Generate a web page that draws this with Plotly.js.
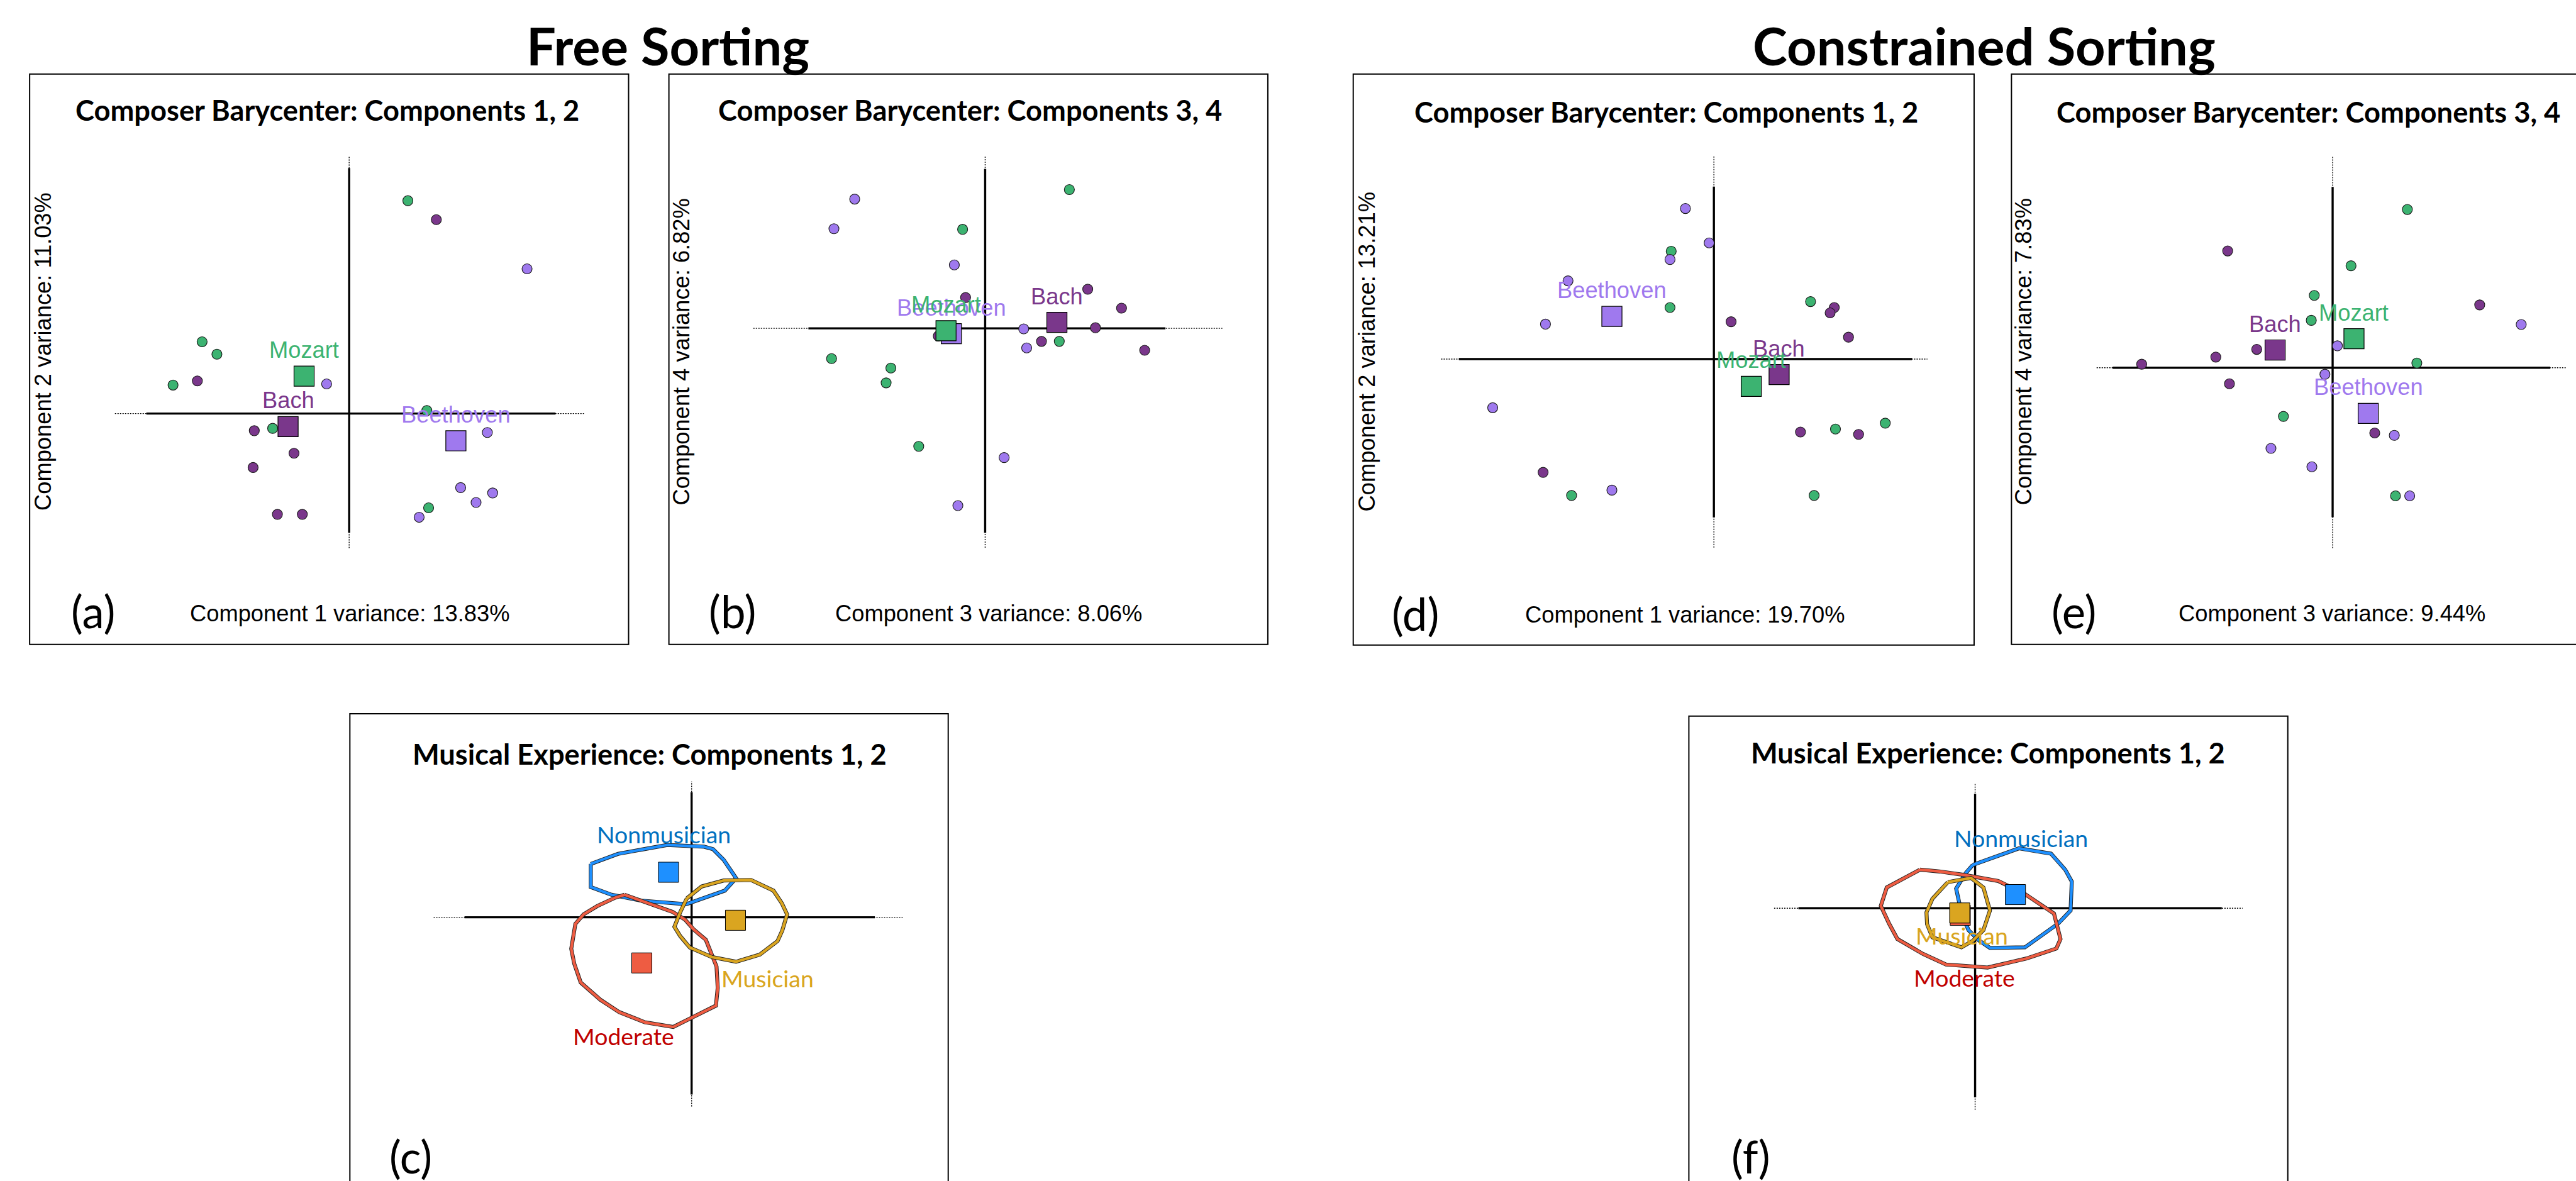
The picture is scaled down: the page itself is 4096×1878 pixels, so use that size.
<!DOCTYPE html>
<html><head><meta charset="utf-8">
<script src="https://cdn.plot.ly/plotly-3.0.1.min.js"></script>
<style>html,body{margin:0;padding:0;background:#fff;overflow:hidden}</style>
</head><body><div id="chart" style="width:4096px;height:1878px"></div>
<script>
// ================= DATA (component scores) =================
const composers = ['Mozart', 'Bach', 'Beethoven'];
const experience = ['Nonmusician', 'Musician', 'Moderate'];

// (a) Free sorting, components 1-2
const freeC12MozartX = [0.99, -2.48, -2.23, -2.97, -1.29, 1.31, 1.34];
const freeC12MozartY = [3.59, 1.21, 1.00, 0.48, -0.25, 0.05, -1.59];
const freeC12BachX = [1.47, -2.56, -1.60, -0.93, -1.62, -1.21, -0.79];
const freeC12BachY = [3.27, 0.55, -0.29, -0.67, -0.91, -1.70, -1.70];
const freeC12BeethovenX = [3.00, -0.38, 2.33, 1.88, 2.42, 2.14, 1.18];
const freeC12BeethovenY = [2.44, 0.50, -0.32, -1.25, -1.34, -1.50, -1.75];
const freeC12BaryX = [-0.76, -1.03, 1.80];   // Mozart, Bach, Beethoven
const freeC12BaryY = [0.63, -0.22, -0.46];

// (b) Free sorting, components 3-4
const freeC34MozartX = [1.42, -0.38, -2.59, -1.59, -1.67, -1.12, 1.25];
const freeC34MozartY = [2.34, 1.67, -0.51, -0.67, -0.92, -1.99, -0.22];
const freeC34BachX = [1.73, -0.33, 2.30, 1.86, 0.95, 2.69, -0.79];
const freeC34BachY = [0.66, 0.52, 0.34, 0.01, -0.22, -0.37, -0.13];
const freeC34BeethovenX = [-2.20, -2.55, -0.52, 0.65, 0.70, 0.32, -0.46];
const freeC34BeethovenY = [2.18, 1.68, 1.07, -0.01, -0.33, -2.18, -2.99];
const freeC34BaryX = [-0.66, 1.21, -0.57];
const freeC34BaryY = [-0.04, 0.10, -0.09];

// (d) Constrained sorting, components 1-2
const conC12MozartX = [-0.72, -0.74, 1.63, 2.05, 2.89, -2.40, 1.69];
const conC12MozartY = [1.82, 0.87, 0.97, -1.18, -1.08, -2.30, -2.30];
const conC12BachX = [0.29, 2.03, 1.96, 2.27, 1.46, 2.44, -2.88];
const conC12BachY = [0.63, 0.87, 0.78, 0.37, -1.23, -1.27, -1.91];
const conC12BeethovenX = [-0.48, -0.08, -0.74, -2.46, -2.84, -3.73, -1.72];
const conC12BeethovenY = [2.54, 1.96, 1.68, 1.32, 0.59, -0.82, -2.21];
const conC12BaryX = [0.63, 1.10, -1.72];
const conC12BaryY = [-0.46, -0.26, 0.72];

// (e) Constrained sorting, components 3-4
const conC34MozartX = [1.26, 0.31, -0.31, -0.36, 1.42, -0.83, 1.06];
const conC34MozartY = [2.67, 1.72, 1.22, 0.80, 0.08, -0.82, -2.16];
const conC34BachX = [-1.77, 2.48, -1.28, -1.97, -3.22, -1.74, 0.71];
const conC34BachY = [1.97, 1.06, 0.31, 0.18, 0.06, -0.27, -1.10];
const conC34BeethovenX = [3.18, 0.08, -0.13, 1.04, -1.04, -0.35, 1.30];
const conC34BeethovenY = [0.73, 0.37, -0.11, -1.14, -1.36, -1.67, -2.16];
const conC34BaryX = [0.36, -0.97, 0.60];
const conC34BaryY = [0.49, 0.30, -0.77];

// (c) Free sorting, musical experience: hull outlines and barycenters
const freeExpNonmusicianX = [-1.70, -1.24, -0.41, 0.21, 0.36, 0.54, 0.75, 0.56, -0.09, -0.84, -1.35, -1.70];
const freeExpNonmusicianY = [0.90, 1.07, 1.22, 1.19, 1.15, 0.97, 0.66, 0.45, 0.22, 0.28, 0.38, 0.51];
const freeExpMusicianX = [-0.08, 0.17, 0.54, 1.00, 1.38, 1.52, 1.61, 1.53, 1.45, 1.15, 0.75, 0.34, -0.03, -0.19, -0.29, -0.19];
const freeExpMusicianY = [0.32, 0.52, 0.62, 0.63, 0.45, 0.24, 0.05, -0.22, -0.40, -0.63, -0.75, -0.67, -0.51, -0.32, -0.16, 0.09];
const freeExpModerateX = [-1.13, -0.56, -0.32, -0.11, 0.04, 0.24, 0.36, 0.42, 0.44, 0.41, 0.03, -0.31, -0.79, -1.22, -1.54, -1.87, -1.98, -2.03, -1.96, -1.82, -1.59, -1.29];
const freeExpModerateY = [0.38, 0.17, 0.09, -0.04, -0.21, -0.38, -0.68, -0.83, -1.19, -1.49, -1.68, -1.85, -1.77, -1.60, -1.39, -1.10, -0.78, -0.53, -0.11, 0.05, 0.19, 0.33];
const freeExpBaryX = [-0.39, 0.74, -0.84];   // Nonmusician, Musician, Moderate
const freeExpBaryY = [0.76, -0.05, -0.77];

// (f) Constrained sorting, musical experience
const conExpNonmusicianX = [-0.04, 0.74, 1.28, 1.52, 1.63, 1.61, 1.40, 0.84, 0.25, 0.06, -0.11, -0.22, -0.32, -0.16];
const conExpNonmusicianY = [0.73, 1.01, 0.92, 0.65, 0.45, -0.04, -0.26, -0.66, -0.67, -0.54, -0.37, -0.12, 0.33, 0.59];
const conExpMusicianX = [-0.46, -0.07, 0.14, 0.25, 0.14, -0.04, -0.23, -0.44, -0.72, -0.81, -0.82, -0.72];
const conExpMusicianY = [0.44, 0.51, 0.35, -0.04, -0.37, -0.55, -0.66, -0.59, -0.49, -0.27, -0.07, 0.16];
const conExpModerateX = [-0.93, -0.60, -0.18, 0.39, 0.84, 1.33, 1.44, 1.37, 0.86, 0.21, -0.49, -0.88, -1.31, -1.45, -1.59, -1.49];
const conExpModerateY = [0.65, 0.62, 0.56, 0.46, 0.24, -0.09, -0.52, -0.68, -0.85, -1.00, -0.95, -0.77, -0.52, -0.26, 0.04, 0.35];
const conExpBaryX = [0.68, -0.26, -0.25];
const conExpBaryY = [0.23, -0.08, -0.12];

// axis extents drawn (solid part and dotted part), in score units
const axisSolidX = [[-3.42, 3.48], [-2.98, 3.04], [-4.30, 3.34], [-3.71, 3.67], [-3.83, 3.09], [-2.98, 4.16]];
const axisDotX   = [[-3.95, 3.96], [-3.91, 4.00], [-4.60, 3.60], [-3.98, 3.93], [-4.35, 3.56], [-3.39, 4.51]];
const axisSolidY = [[-2.01, 4.14], [-3.45, 2.69], [-2.67, 2.91], [-2.52, 3.05], [-2.99, 2.11], [-3.19, 1.93]];
const axisDotY   = [[-2.27, 4.34], [-3.70, 2.91], [-3.18, 3.42], [-3.04, 3.57], [-3.19, 2.29], [-3.40, 2.11]];

const varianceX = ['Component 1 variance: 13.83%', 'Component 3 variance: 8.06%', 'Component 1 variance: 19.70%', 'Component 3 variance: 9.44%'];
const varianceY = ['Component 2 variance: 11.03%', 'Component 4 variance: 6.82%', 'Component 2 variance: 13.21%', 'Component 4 variance: 7.83%'];
const panelTitles = ['Composer Barycenter: Components 1, 2', 'Composer Barycenter: Components 3, 4',
  'Composer Barycenter: Components 1, 2', 'Composer Barycenter: Components 3, 4',
  'Musical Experience: Components 1, 2', 'Musical Experience: Components 1, 2'];
const panelLetters = ['(a)', '(b)', '(d)', '(e)', '(c)', '(f)'];
const headings = ['Free Sorting', 'Constrained Sorting'];

// ================= LAYOUT / STYLE =================
const RW = 4344, RH = 1992, S = 4096 / 4344, U = 100;
const pX = x => x / RW, pY = y => 1 - y / RH;
const LATO = "Lato, 'Open Sans', sans-serif";
const ARIAL = "'Liberation Sans', Arial, Helvetica, sans-serif";
const compColor = {Mozart: '#3CB371', Bach: '#7A378B', Beethoven: '#9F79EE'};
const expLine = {Nonmusician: '#1E90FF', Musician: '#DAA520', Moderate: '#EE5C42'};
const expText = {Nonmusician: '#0070C0', Musician: '#D9A520', Moderate: '#C00000'};

// panel boxes in reference px [left, top, right, bottom] and origin of the crosshair
const panels = [
  {box: [50, 125, 1060, 1087], org: [588.8, 697.5], title: [551.6, 185], letter: [157, 1030], xt: [590, 1035], yt: [72, 593]},
  {box: [1128, 125, 2138, 1087], org: [1661.3, 553.8], title: [1635.6, 185], letter: [1235, 1030], xt: [1667.5, 1035], yt: [1149, 593]},
  {box: [2282, 125, 3329, 1088], org: [2890.2, 605.7], title: [2810, 188.6], letter: [2387, 1035], xt: [2841, 1037], yt: [2305, 593]},
  {box: [3392, 125, 4402, 1087], org: [3933.6, 620.3], title: [3893, 188.6], letter: [3497, 1030], xt: [3932, 1035], yt: [3412, 593]},
  {box: [590, 1204, 1599, 2100], org: [1166.3, 1547.2], title: [1095.7, 1271], letter: [693, 1950]},
  {box: [2848, 1208, 3858, 2100], org: [3330.7, 1531.9], title: [3352.4, 1269.4], letter: [2953, 1950]}
];
const headingPos = [[1126, 76], [3346, 76]];
const expLabelPos = [
  {Nonmusician: [1119, 1407], Musician: [1294, 1650], Moderate: [1052, 1748]},
  {Nonmusician: [3408, 1413], Musician: [3308, 1578], Moderate: [3313, 1649]}
];

const layout = {
  width: 4096, height: 1878, margin: {l: 0, r: 0, t: 0, b: 0},
  paper_bgcolor: '#ffffff', plot_bgcolor: 'rgba(0,0,0,0)', showlegend: false,
  shapes: [], annotations: []
};
const traces = [];

panels.forEach((p, i) => {
  const n = i + 1, s = n === 1 ? '' : String(n);
  const L = Math.max(0, p.box[0]), R = Math.min(RW, p.box[2]);
  const T = Math.max(0, p.box[1]), B = Math.min(RH, p.box[3]);
  layout['xaxis' + s] = {domain: [L / RW, R / RW], range: [(L - p.org[0]) / U, (R - p.org[0]) / U],
    visible: false, fixedrange: true, anchor: 'y' + s, showgrid: false, zeroline: false};
  layout['yaxis' + s] = {domain: [1 - B / RH, 1 - T / RH], range: [(p.org[1] - B) / U, (p.org[1] - T) / U],
    visible: false, fixedrange: true, anchor: 'x' + s, showgrid: false, zeroline: false};
  p.xa = 'x' + s; p.ya = 'y' + s;
  // box
  layout.shapes.push({type: 'rect', xref: 'paper', yref: 'paper', x0: pX(p.box[0]), x1: pX(p.box[2]),
    y0: pY(p.box[3]), y1: pY(p.box[1]), line: {color: '#000', width: 2}, fillcolor: 'rgba(0,0,0,0)', layer: 'below'});
  // crosshair: dotted extension then solid
  const dl = {color: '#000', width: 1.4, dash: '2px,2px'}, sl = {color: '#000', width: 3.4};
  layout.shapes.push({type: 'line', xref: p.xa, yref: p.ya, x0: axisDotX[i][0], x1: axisDotX[i][1], y0: 0, y1: 0, line: dl, layer: 'below'});
  layout.shapes.push({type: 'line', xref: p.xa, yref: p.ya, x0: 0, x1: 0, y0: axisDotY[i][0], y1: axisDotY[i][1], line: dl, layer: 'below'});
  layout.shapes.push({type: 'line', xref: p.xa, yref: p.ya, x0: axisSolidX[i][0], x1: axisSolidX[i][1], y0: 0, y1: 0, line: sl, layer: 'below'});
  layout.shapes.push({type: 'line', xref: p.xa, yref: p.ya, x0: 0, x1: 0, y0: axisSolidY[i][0], y1: axisSolidY[i][1], line: sl, layer: 'below'});
  // title & letter
  layout.annotations.push({xref: 'paper', yref: 'paper', x: pX(p.title[0]), y: pY(p.title[1]), text: panelTitles[i],
    showarrow: false, xanchor: 'center', yanchor: 'middle', font: {family: LATO, size: 48 * S, color: '#000', weight: 700}});
  layout.annotations.push({xref: 'paper', yref: 'paper', x: pX(p.letter[0]), y: pY(p.letter[1]), text: panelLetters[i],
    showarrow: false, xanchor: 'center', yanchor: 'middle', font: {family: LATO, size: 75 * S, color: '#000'}});
  if (p.xt) {
    layout.annotations.push({xref: 'paper', yref: 'paper', x: pX(p.xt[0]), y: pY(p.xt[1]), text: varianceX[i],
      showarrow: false, xanchor: 'center', yanchor: 'middle', font: {family: ARIAL, size: 38.5 * S, color: '#000'}});
    layout.annotations.push({xref: 'paper', yref: 'paper', x: pX(p.yt[0]), y: pY(p.yt[1]), text: varianceY[i], textangle: -90,
      showarrow: false, xanchor: 'center', yanchor: 'middle', font: {family: ARIAL, size: 38.5 * S, color: '#000'}});
  }
});

headings.forEach((h, k) => {
  layout.annotations.push({xref: 'paper', yref: 'paper', x: pX(headingPos[k][0]), y: pY(headingPos[k][1]), text: h,
    showarrow: false, xanchor: 'center', yanchor: 'middle', font: {family: LATO, size: 88 * S, color: '#000', weight: 700}});
});

// composer panels
const compData = [
  {pts: {Mozart: [freeC12MozartX, freeC12MozartY], Bach: [freeC12BachX, freeC12BachY], Beethoven: [freeC12BeethovenX, freeC12BeethovenY]}, bx: freeC12BaryX, by: freeC12BaryY},
  {pts: {Mozart: [freeC34MozartX, freeC34MozartY], Bach: [freeC34BachX, freeC34BachY], Beethoven: [freeC34BeethovenX, freeC34BeethovenY]}, bx: freeC34BaryX, by: freeC34BaryY},
  {pts: {Mozart: [conC12MozartX, conC12MozartY], Bach: [conC12BachX, conC12BachY], Beethoven: [conC12BeethovenX, conC12BeethovenY]}, bx: conC12BaryX, by: conC12BaryY},
  {pts: {Mozart: [conC34MozartX, conC34MozartY], Bach: [conC34BachX, conC34BachY], Beethoven: [conC34BeethovenX, conC34BeethovenY]}, bx: conC34BaryX, by: conC34BaryY}
];
const drawOrder = ['Bach', 'Beethoven', 'Mozart'];
compData.forEach((d, i) => {
  const p = panels[i];
  ['Mozart', 'Bach', 'Beethoven'].forEach(c => {
    traces.push({type: 'scatter', mode: 'markers', xaxis: p.xa, yaxis: p.ya, x: d.pts[c][0], y: d.pts[c][1], hoverinfo: 'skip',
      marker: {symbol: 'circle', size: 17 * S, color: compColor[c], line: {color: '#1a1a1a', width: 1.1}}});
  });
  drawOrder.forEach(c => {
    const j = composers.indexOf(c);
    traces.push({type: 'scatter', mode: 'markers', xaxis: p.xa, yaxis: p.ya, x: [d.bx[j]], y: [d.by[j]], hoverinfo: 'skip',
      marker: {symbol: 'square', size: 34 * S, color: compColor[c], line: {color: '#000', width: 1.2}}});
    layout.annotations.push({xref: p.xa, yref: p.ya, x: d.bx[j], y: d.by[j], yshift: 44 * S, text: c, showarrow: false,
      xanchor: 'center', yanchor: 'middle', font: {family: ARIAL, size: 38.5 * S, color: compColor[c]}});
  });
});

// experience panels
const expData = [
  {hull: {Nonmusician: [freeExpNonmusicianX, freeExpNonmusicianY], Musician: [freeExpMusicianX, freeExpMusicianY], Moderate: [freeExpModerateX, freeExpModerateY]}, bx: freeExpBaryX, by: freeExpBaryY, order: ['Moderate', 'Musician', 'Nonmusician']},
  {hull: {Nonmusician: [conExpNonmusicianX, conExpNonmusicianY], Musician: [conExpMusicianX, conExpMusicianY], Moderate: [conExpModerateX, conExpModerateY]}, bx: conExpBaryX, by: conExpBaryY, order: ['Moderate', 'Musician', 'Nonmusician']}
];
const closeRing = a => a.concat([a[0]]);
expData.forEach((d, k) => {
  const p = panels[4 + k];
  ['Nonmusician', 'Moderate', 'Musician'].forEach(g => {
    const hx = closeRing(d.hull[g][0]), hy = closeRing(d.hull[g][1]);
    traces.push({type: 'scatter', mode: 'lines', xaxis: p.xa, yaxis: p.ya, x: hx, y: hy, hoverinfo: 'skip',
      line: {color: '#222', width: 6.6 * S}});
    traces.push({type: 'scatter', mode: 'lines', xaxis: p.xa, yaxis: p.ya, x: hx, y: hy, hoverinfo: 'skip',
      line: {color: expLine[g], width: 4.6 * S}});
  });
  d.order.forEach(g => {
    const j = experience.indexOf(g);
    traces.push({type: 'scatter', mode: 'markers', xaxis: p.xa, yaxis: p.ya, x: [d.bx[j]], y: [d.by[j]], hoverinfo: 'skip',
      marker: {symbol: 'square', size: 34 * S, color: expLine[g], line: {color: '#000', width: 1}}});
  });
  experience.forEach(g => {
    const pos = expLabelPos[k][g];
    layout.annotations.push({xref: 'paper', yref: 'paper', x: pX(pos[0]), y: pY(pos[1]), text: g, showarrow: false,
      xanchor: 'center', yanchor: 'middle', font: {family: LATO, size: 39.7 * S, color: expText[g]}});
  });
});

Plotly.newPlot('chart', traces, layout, {staticPlot: true, displayModeBar: false});
</script>
</body></html>
